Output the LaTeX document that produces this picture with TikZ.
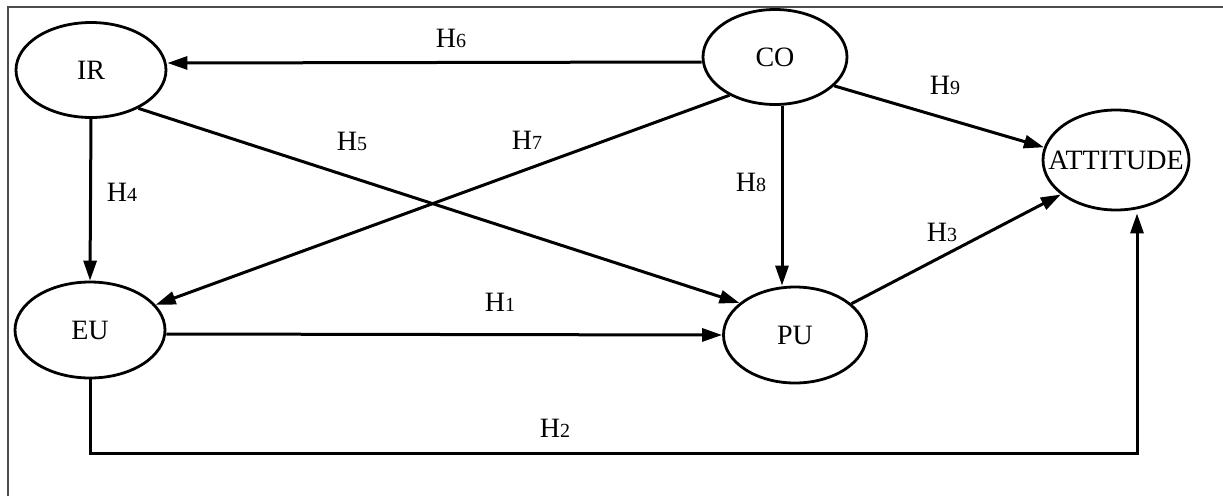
\documentclass[tikz,border=0pt]{standalone}
\usepackage{fontspec}
\setmainfont{Liberation Serif}
\usetikzlibrary{arrows.meta,shapes.geometric}

% hypothesis label: large H with a smaller numeral on the baseline
\newcommand\hyplabel[1]{H{\fontsize{20}{22}\selectfont #1}}

\tikzset{
  construct/.style={ellipse, draw, line width=2.8pt, fill=white, inner sep=0pt,
    font=\fontsize{28}{31}\selectfont},
  path/.style={line width=3pt, -{Triangle[length=20pt,width=13pt]}},
  hyp/.style={font=\fontsize{28}{30}\selectfont, inner sep=0pt},
  frameline/.style={line width=1.3pt, draw=black!70}
}

\begin{document}
\begin{tikzpicture}[x=1pt,y=-1pt]
  \useasboundingbox (0,0) rectangle (1223,496);
  \fill[white] (0,0) rectangle (1223,496);

  % outer frame (top and left edges)
  \draw[frameline] (8,496) -- (8,7) -- (1223,7);

  % constructs
  \node[construct, minimum width=150pt, minimum height=95pt] (IR)  at (91,70)   {IR};
  \node[construct, minimum width=144pt, minimum height=95pt] (CO)  at (775,57)  {CO};
  \node[construct, minimum width=146pt, minimum height=100pt] (ATT) at (1116,160) {\makebox[0pt]{ATTITUDE}};
  \node[construct, minimum width=150pt, minimum height=96pt] (EU)  at (90,330)  {EU};
  \node[construct, minimum width=143pt, minimum height=96pt] (PU)  at (795,335) {PU};

  % hypothesised paths
  \draw[path] ([yshift=-5pt]CO.west) -- ([yshift=7pt]IR.east);
  \draw[path] (IR.south) -- (EU.north);
  \draw[path] (IR.-39.5) -- (PU.150);
  \draw[path] (CO.220) -- (EU.21);
  \draw[path] ([xshift=7pt]CO.south) -- ([xshift=-13pt]PU.north);
  \draw[path] (CO.-26) -- (ATT.170);
  \draw[path] (PU.29) -- (ATT.212);
  \draw[path] ([yshift=-4pt]EU.east) -- (PU.west);
  \draw[path] (EU.south) -- ++(0,74) -| ([xshift=21pt,yshift=-2pt]ATT.south);

  % labels
  \node[hyp] (h6) at (451,38)  {\hyplabel{6}};
  \node[hyp] (h4) at (122,192) {\hyplabel{4}};
  \node[hyp] (h5) at (352,141) {\hyplabel{5}};
  \node[hyp] (h7) at (527,140) {\hyplabel{7}};
  \node[hyp] (h8) at (751,182) {\hyplabel{8}};
  \node[hyp] (h9) at (945,85)  {\hyplabel{9}};
  \node[hyp] (h3) at (942,232) {\hyplabel{3}};
  \node[hyp] (h1) at (500,302) {\hyplabel{1}};
  \node[hyp] (h2) at (555,428) {\hyplabel{2}};
\end{tikzpicture}
\end{document}
